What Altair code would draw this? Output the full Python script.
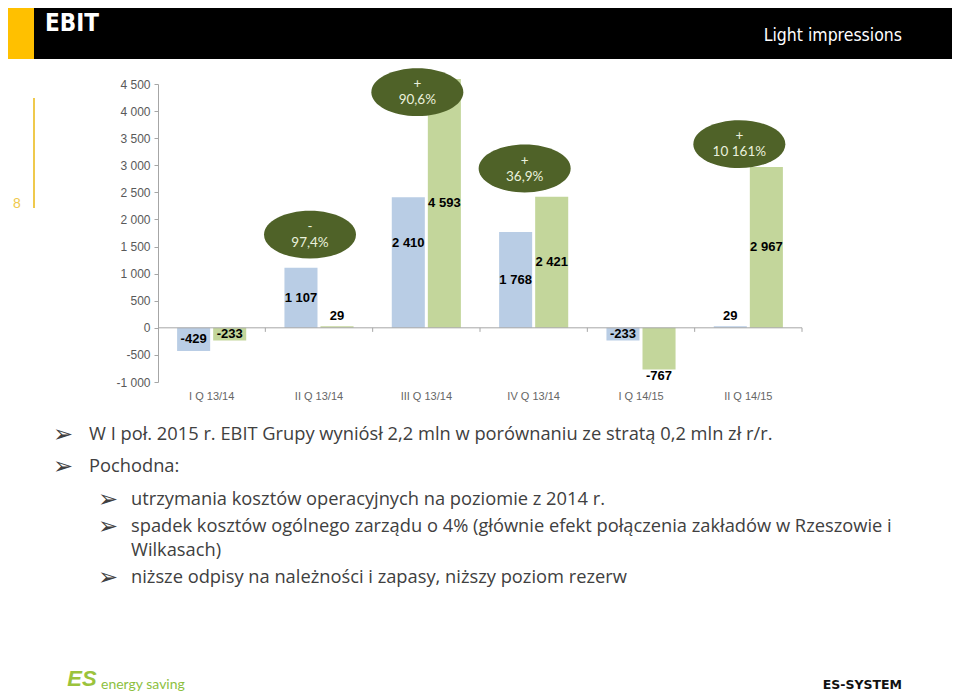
import altair as alt
import pandas as pd

# ---------------- data ----------------
quarters = ["I Q 13/14", "II Q 13/14", "III Q 13/14", "IV Q 13/14", "I Q 14/15", "II Q 14/15"]
ebit_prev = [-429, 1107, 2410, 1768, -233, 29]      # blue bars (year-ago quarter)
ebit_curr = [-233, 29, 4593, 2421, -767, 2967]      # green bars (current quarter)
label_place_prev = ["center", "center", "upper", "center", "center", "above"]
label_place_curr = ["center", "above", "center", "center", "below", "center"]

bubble_quarters = ["II Q 13/14", "III Q 13/14", "IV Q 13/14", "II Q 14/15"]
bubble_signs = ["-", "+", "+", "+"]
bubble_changes = ["97,4%", "90,6%", "36,9%", "10 161%"]
bubble_levels = [1720, 4350, 2940, 3390]

y_ticks = list(range(-1000, 4501, 500))

header_title = "EBIT"
header_tagline = "Light impressions"
page_number = "8"
bullet_main = [
    "W I poł. 2015 r. EBIT Grupy wyniósł 2,2 mln w porównaniu ze stratą 0,2 mln zł r/r.",
    "Pochodna:",
]
bullet_sub = [
    "utrzymania kosztów operacyjnych na poziomie z 2014 r.",
    "spadek kosztów ogólnego zarządu o 4% (głównie efekt połączenia zakładów w Rzeszowie i",
    "niższe odpisy na należności i zapasy, niższy poziom rezerw",
]
bullet_continuation = "Wilkasach)"
footer_logo = "ES"
footer_left = "energy saving"
footer_right = "ES-SYSTEM"


def fmt(v):
    return ("-" if v < 0 else "") + f"{abs(v):,}".replace(",", " ")


rows = []
for q, a, b, pa, pb in zip(quarters, ebit_prev, ebit_curr, label_place_prev, label_place_curr):
    rows.append({"q": q, "s": "prev", "v": a, "lab": fmt(a), "place": pa})
    rows.append({"q": q, "s": "curr", "v": b, "lab": fmt(b), "place": pb})
bars = pd.DataFrame(rows)

bubbles = pd.DataFrame({
    "q": bubble_quarters, "sign": bubble_signs, "pct": bubble_changes, "by": bubble_levels,
})

# ---------------- geometry ----------------
W, H = 644, 298
OX, OY = 158, 84   # page position of plot origin

SANS = "Liberation Sans, Arial, sans-serif"
NARROW = "Liberation Sans Narrow, Arial Narrow, DejaVu Sans Condensed, sans-serif"
BODY = "Open Sans, Noto Sans, sans-serif"
BUBBLE = "Lato, Carlito, Calibri, sans-serif"

xscale = alt.Scale(domain=quarters, paddingInner=0, paddingOuter=0)
yscale = alt.Scale(domain=[-1000, 4500], nice=False, zero=False)

xaxis = alt.Axis(domain=False, ticks=False, labelFont=SANS, labelFontSize=11,
                 labelColor="#666666", labelPadding=8, labelAngle=0, title=None)
yaxis = alt.Axis(values=y_ticks, grid=False, domainColor="#A6A6A6", tickColor="#A6A6A6",
                 tickSize=4, labelFont=SANS, labelFontSize=12, labelColor="#595959",
                 labelPadding=4, title=None,
                 labelExpr="(datum.value < 0 ? '-' : '') + replace(format(abs(datum.value), ','), ',', ' ')")


def X(**kw):
    return alt.X("q:N", sort=quarters, scale=xscale, axis=xaxis, title=None, **kw)


def Y(field):
    return alt.Y(field, scale=yscale, axis=yaxis, title=None)


XOFF = alt.XOffset("s:N", sort=["prev", "curr"],
                   scale=alt.Scale(domain=["prev", "curr"], paddingInner=1 / 12, paddingOuter=0.53))

base = alt.Chart(bars)

bar_layer = base.mark_bar().encode(
    x=X(), xOffset=XOFF, y=Y("v:Q"),
    color=alt.Color("s:N", scale=alt.Scale(domain=["prev", "curr"], range=["#B9CDE5", "#C3D69B"]), legend=None),
)

lab_kw = dict(font=SANS, fontSize=13, fontWeight="bold", color="#000000")
lab_center = base.transform_filter("datum.place == 'center'").transform_calculate(
    ly="datum.v / 2").mark_text(baseline="middle", **lab_kw).encode(
    x=X(), xOffset=XOFF, y=Y("ly:Q"), text="lab:N")
lab_upper = base.transform_filter("datum.place == 'upper'").transform_calculate(
    ly="datum.v * 0.65").mark_text(baseline="middle", **lab_kw).encode(
    x=X(), xOffset=XOFF, y=Y("ly:Q"), text="lab:N")
lab_above = base.transform_filter("datum.place == 'above'").mark_text(
    baseline="bottom", dy=-3, **lab_kw).encode(
    x=X(), xOffset=XOFF, y=Y("v:Q"), text="lab:N")
lab_below = base.transform_filter("datum.place == 'below'").mark_text(
    baseline="top", dy=1, **lab_kw).encode(
    x=X(), xOffset=XOFF, y=Y("v:Q"), text="lab:N")

zero_line = alt.Chart(pd.DataFrame({"z": [0]})).mark_rule(color="#A6A6A6", strokeWidth=1).encode(
    y=Y("z:Q"), x=alt.value(0), x2=alt.value(W))
zero_ticks = alt.Chart(pd.DataFrame({"q": quarters})).transform_calculate(
    z0="0", z1="-75").mark_rule(color="#A6A6A6", strokeWidth=1).encode(
    x=X(bandPosition=1), y=Y("z0:Q"), y2="z1:Q")

k = 0.5523
ry = 0.52
ELLIPSE = (f"M -1,0 C -1,{-ry*k:.4f} {-k:.4f},{-ry} 0,{-ry} C {k:.4f},{-ry} 1,{-ry*k:.4f} 1,0 "
           f"C 1,{ry*k:.4f} {k:.4f},{ry} 0,{ry} C {-k:.4f},{ry} -1,{ry*k:.4f} -1,0 Z")

bub = alt.Chart(bubbles)
bubble_shapes = bub.mark_point(shape=ELLIPSE, size=92 * 92, filled=True, opacity=1,
                               color="#4F6228", strokeWidth=0, xOffset=-9).encode(x=X(), y=Y("by:Q"))
bubble_sign_txt = bub.mark_text(font=BUBBLE, fontSize=13.5, color="#EAF1DD", dy=-8, xOffset=-9,
                                baseline="middle").encode(x=X(), y=Y("by:Q"), text="sign:N")
bubble_pct_txt = bub.mark_text(font=BUBBLE, fontSize=13.5, color="#EAF1DD", dy=8, xOffset=-9,
                               baseline="middle").encode(x=X(), y=Y("by:Q"), text="pct:N")


# ---------------- slide decorations ----------------
def rect(x1, y1, x2, y2, color):
    return alt.Chart(pd.DataFrame({"a": [0]})).mark_rect(color=color).encode(
        x=alt.value(x1 - OX), x2=alt.value(x2 - OX), y=alt.value(y1 - OY), y2=alt.value(y2 - OY))


def txt(s, x, y, **kw):
    return alt.Chart(pd.DataFrame({"t": [s]})).mark_text(**kw).encode(
        text="t:N", x=alt.value(x - OX), y=alt.value(y - OY))


deco = [
    rect(0, 0, 34, 59, "#FFC000"),
    rect(34, 0, 960, 59, "#000000"),
    txt(header_title, 45, 24, font=NARROW, fontSize=24, fontWeight="bold", color="#FFFFFF",
        align="left", baseline="middle"),
    txt(header_tagline, 902, 36, font=NARROW, fontSize=17.5, color="#FFFFFF",
        align="right", baseline="middle"),
    txt(page_number, 17, 204, font=SANS, fontSize=14, color="#EFC94C", align="center", baseline="middle"),
    alt.Chart(pd.DataFrame({"a": [0]})).mark_rule(color="#EFC94C", strokeWidth=2).encode(
        x=alt.value(34 - OX), y=alt.value(98 - OY), y2=alt.value(208 - OY)),
]

body_kw = dict(font=BODY, fontSize=18.3, color="#404040", align="left", baseline="middle")
arrow_kw = dict(font="DejaVu Sans", fontSize=24, color="#404040", align="center", baseline="middle")
main_y = [435, 467]
sub_y = [500, 527, 578]
for line, yy in zip(bullet_main, main_y):
    deco.append(txt("➢", 63, yy, **arrow_kw))
    deco.append(txt(line, 89, yy, **body_kw))
for line, yy in zip(bullet_sub, sub_y):
    deco.append(txt("➢", 108, yy, **arrow_kw))
    deco.append(txt(line, 131, yy, **body_kw))
deco.append(txt(bullet_continuation, 131, 551, **body_kw))

deco += [
    txt(footer_logo, 82, 679, font=SANS, fontSize=22, fontStyle="italic", fontWeight="bold",
        color="#9BC33C", align="center", baseline="middle"),
    txt(footer_left, 101, 685, font=BUBBLE, fontSize=14, color="#8DBF3F", align="left", baseline="middle"),
    txt(footer_right, 902, 685, font="DejaVu Sans", fontSize=12.5, fontWeight="bold", color="#111111",
        align="right", baseline="middle"),
]

chart = alt.layer(
    *deco,
    bar_layer, zero_line, zero_ticks,
    lab_center, lab_upper, lab_above, lab_below,
    bubble_shapes, bubble_sign_txt, bubble_pct_txt,
).properties(
    width=W, height=H,
    autosize=alt.AutoSizeParams(type="none"),
    padding={"left": OX - 8, "top": OY - 8, "right": 944 - (OX - 8) - W, "bottom": 684 - (OY - 8) - H},
).configure_view(stroke=None)

chart.save("out.html", embed_options={"renderer": "svg", "actions": False})
